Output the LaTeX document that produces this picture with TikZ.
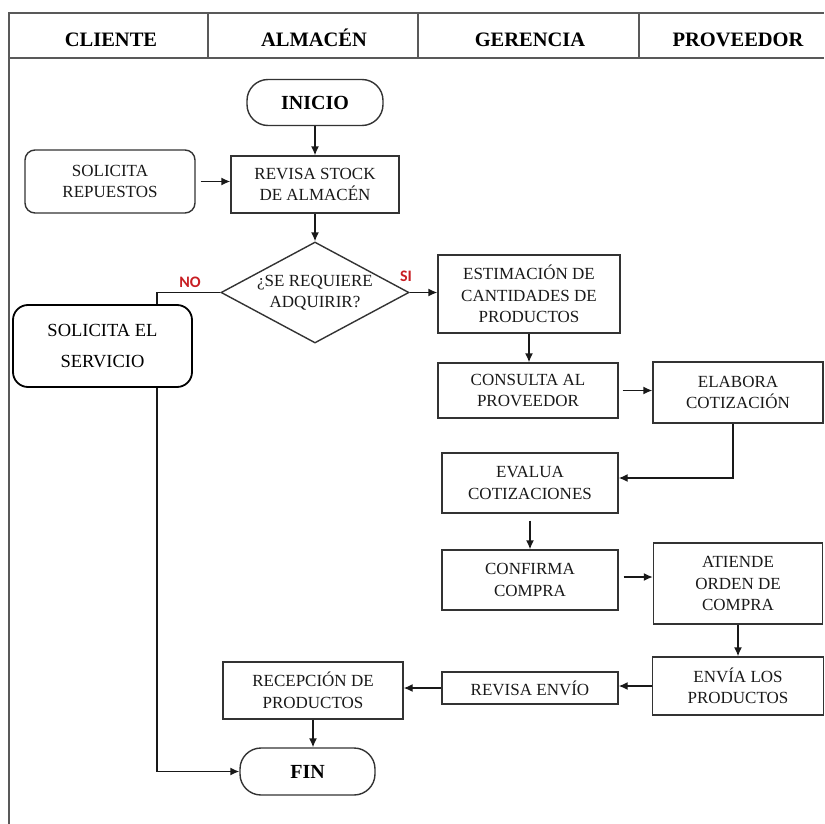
\documentclass[tikz,border=0pt]{standalone}
\usepackage{fontspec}
\setmainfont{Liberation Serif}
\newfontfamily\tagfont{Carlito}
\usetikzlibrary{shapes.geometric,arrows.meta}
\definecolor{sired}{RGB}{200,30,35}
\tikzset{
  lane/.style={draw=black!65, line width=2pt},
  head/.style={anchor=base, font=\fontsize{20.5}{24}\selectfont\bfseries},
  proc/.style={draw=black!80, line width=1.4pt, fill=white, align=center, inner sep=0pt, text=black!90, font=\fontsize{17}{21.5}\selectfont},
  term/.style={proc, rounded corners=21pt, minimum width=136pt, minimum height=46pt, text=black, font=\fontsize{20}{24}\selectfont\bfseries},
  soft/.style={proc, rounded corners=10pt},
  decision/.style={proc, diamond, aspect=1.86, inner sep=-3pt, minimum width=188pt, minimum height=101pt},
  arr/.style={-{Latex[length=9pt,width=8pt]}, line width=1.4pt, black!90},
  tag/.style={text=sired, font=\tagfont\fontsize{16}{18}\selectfont\bfseries}
}
\begin{document}
\begin{tikzpicture}[x=1pt,y=-1pt]
\useasboundingbox (0,0) rectangle (824,824);
\draw[lane] (9,824) -- (9,13) -- (824,13);
\draw[lane] (9,58) -- (824,58);
\foreach \x in {208,418,639} \draw[lane] (\x,13) -- (\x,58);
\node[head] (cliente) at (111,47) {CLIENTE};
\node[head] (almacen) at (314,47) {ALMACÉN};
\node[head] (gerencia) at (530,47) {GERENCIA};
\node[head] (proveedor) at (738,47) {PROVEEDOR};

\node[term] (inicio) at (315,102.5) {INICIO};
\node[soft, minimum width=170pt, minimum height=63pt] (repuestos) at (110,181.5) {SOLICITA\\REPUESTOS};
\node[proc, minimum width=168pt, minimum height=57pt] (revisa) at (315,184.5) {REVISA STOCK\\DE ALMACÉN};
\node[decision] (decide) at (315,292.5) {¿SE REQUIERE\\ADQUIRIR?};
\node[tag] (no) at (190,282) {NO};
\node[tag] (si) at (406,276) {SI};
\node[proc, minimum width=182pt, minimum height=78pt] (estima) at (529,294) {ESTIMACIÓN DE\\CANTIDADES DE\\PRODUCTOS};
\node[proc, minimum width=180pt, minimum height=55pt] (consulta) at (528,390.5) {CONSULTA AL\\PROVEEDOR};
\node[proc, minimum width=170pt, minimum height=61pt] (elabora) at (738,392.5) {ELABORA\\COTIZACIÓN};
\node[proc, minimum width=176pt, minimum height=60pt] (evalua) at (530,483) {EVALUA\\COTIZACIONES};
\node[proc, minimum width=176pt, minimum height=60pt] (confirma) at (530,580) {CONFIRMA\\COMPRA};
\node[proc, minimum width=169pt, minimum height=81pt] (atiende) at (738,583.5) {ATIENDE\\ORDEN DE\\COMPRA};
\node[proc, minimum width=171pt, minimum height=58pt] (envia) at (738,686) {ENVÍA LOS\\PRODUCTOS};
\node[proc, minimum width=176pt, minimum height=32pt] (revenvio) at (530,688) {REVISA ENVÍO};
\node[proc, minimum width=180pt, minimum height=57pt] (recepcion) at (313,690.5) {RECEPCIÓN DE\\PRODUCTOS};
\node[term, minimum width=135pt, minimum height=47pt] (fin) at (307.5,771.5) {FIN};

\draw[arr] (inicio) -- (revisa);
\draw[arr, shorten <=5pt] (repuestos.east) -- (repuestos.east -| revisa.west);
\draw[arr] (revisa) -- (decide);
\draw[arr] (decide.east) -- (decide.east -| estima.west);
\draw[arr] (estima.south) -- (estima.south |- consulta.north);
\draw[arr, shorten <=4pt] (consulta.east) -- (consulta.east -| elabora.west);
\draw[arr] ([xshift=-5pt]elabora.south) |- ([yshift=5pt]evalua.east);
\draw[arr, shorten <=7pt] (evalua.south) -- (confirma.north);
\draw[arr, shorten <=5pt] ([yshift=3pt]confirma.east) -- ([yshift=3pt]confirma.east -| atiende.west);
\draw[arr] (atiende) -- (envia);
\draw[arr] (envia.west) -- (envia.west -| revenvio.east);
\draw[arr] (revenvio.west) -- (revenvio.west -| recepcion.east);
\draw[arr] (recepcion.south) -- (recepcion.south |- fin.north);
\coordinate (nocorner) at (157,771.5);
\draw[arr] (decide.west) -| (nocorner) -- (fin.west);
\node[draw, line width=1.8pt, rounded corners=15pt, fill=white, align=center, minimum width=179pt, minimum height=82pt, font=\fontsize{18.5}{31}\selectfont] (servicio) at (102.5,346) {SOLICITA EL\\SERVICIO};
\end{tikzpicture}
\end{document}
